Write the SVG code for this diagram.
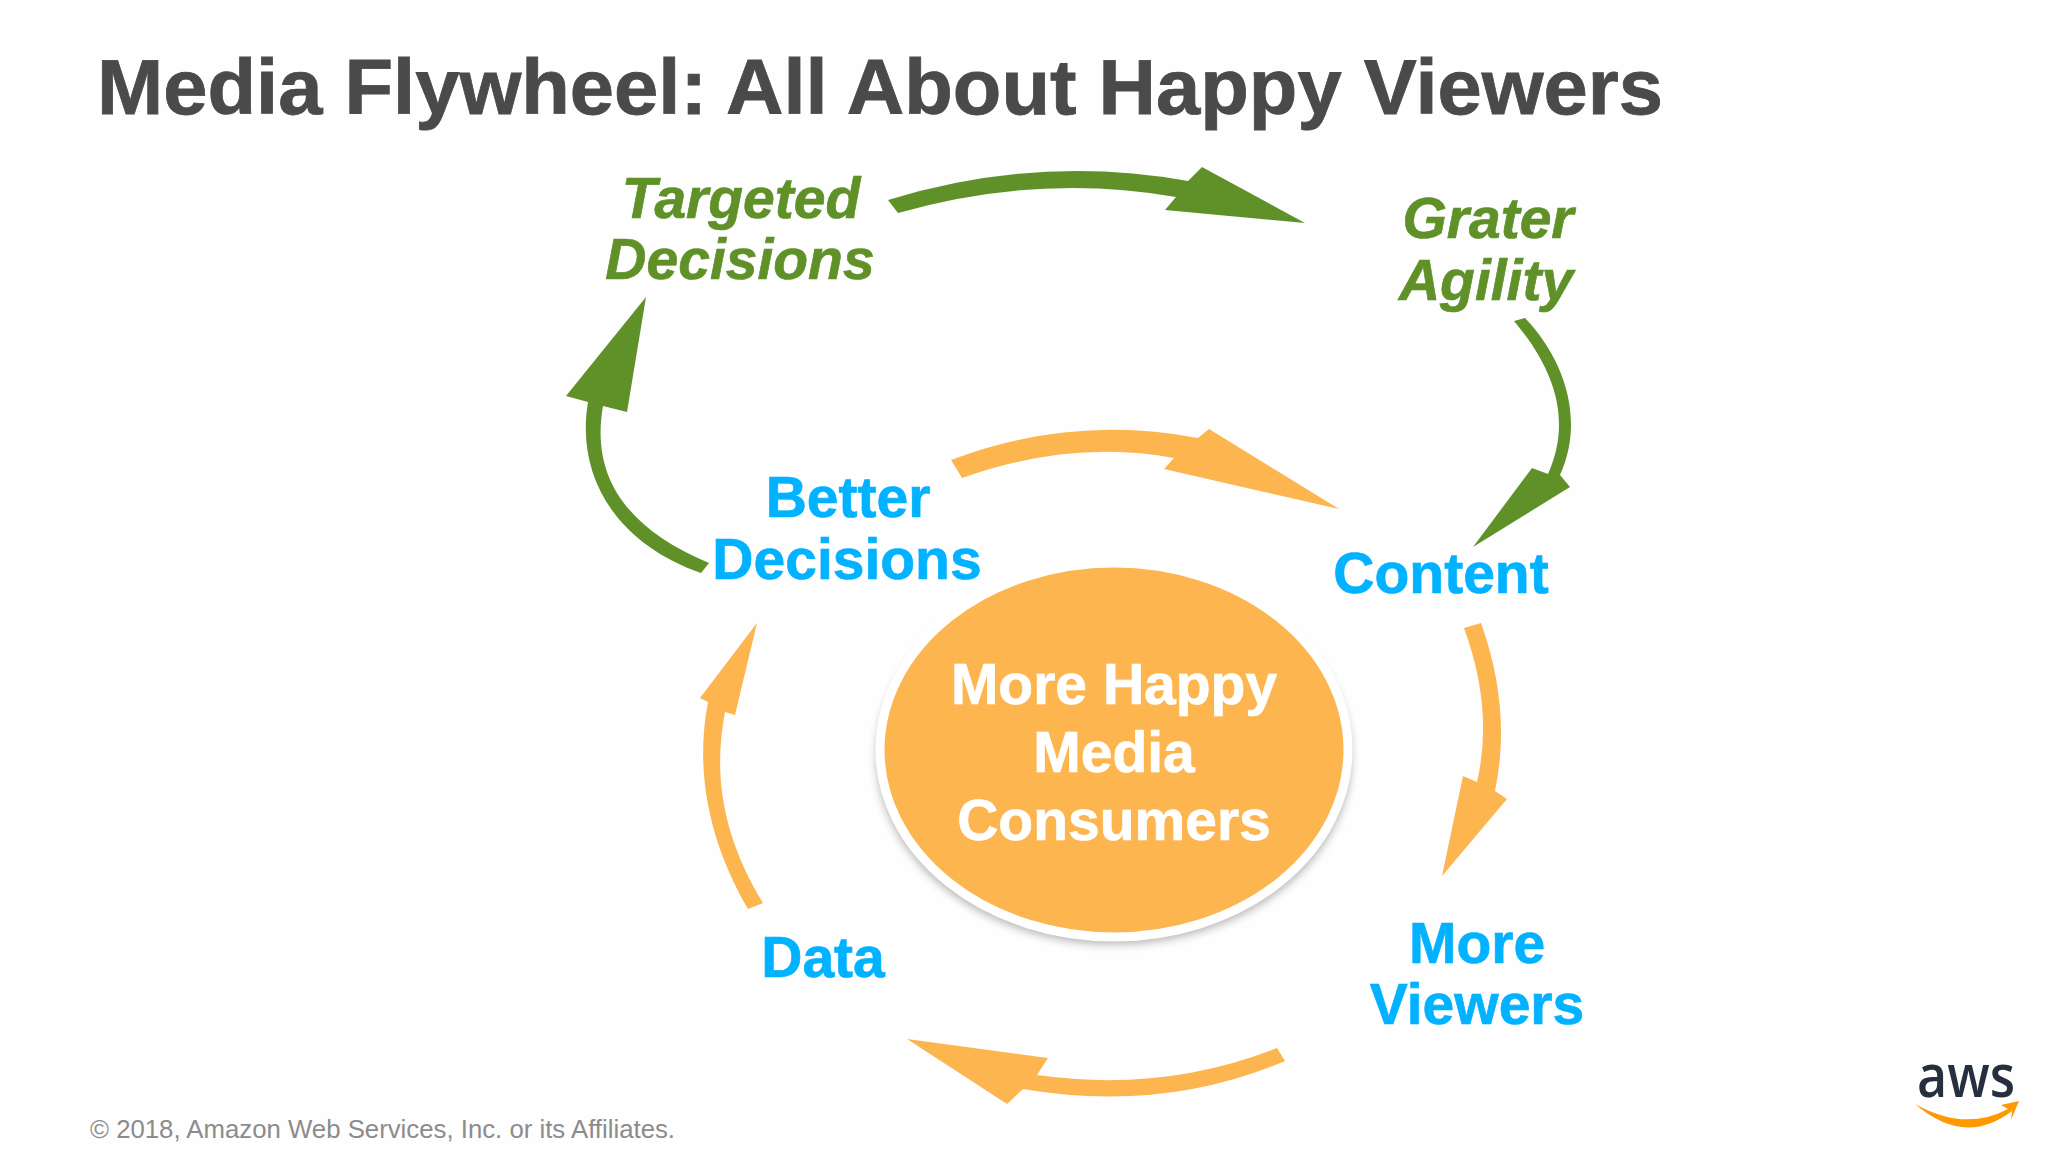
<svg xmlns="http://www.w3.org/2000/svg" width="2048" height="1152" viewBox="0 0 2048 1152">
<defs>
<style>
text{font-family:"Liberation Sans",Arial,sans-serif;font-weight:700;text-anchor:middle;font-size:57px}
.blue{fill:#00b2ff;stroke:#00b2ff;stroke-width:.7}
.green{fill:#5f9128;stroke:#5f9128;stroke-width:.7;font-style:italic}
.white{fill:#fff;stroke:#fff;stroke-width:.7}
.go{fill:#5f9128}
.or{fill:#fcb54f}
</style>
<filter id="sh" x="-10%" y="-10%" width="120%" height="125%"><feGaussianBlur stdDeviation="5"/></filter>
</defs>
<rect width="2048" height="1152" fill="#fefefe"/>
<g id="title"><text x="97" y="114" style="text-anchor:start;font-size:78px;fill:#4a4a4a;stroke:#4a4a4a;stroke-width:.8" textLength="1566" lengthAdjust="spacingAndGlyphs">Media Flywheel: All About Happy Viewers</text></g>
<g id="connectors">
<path class="go" d="M888 200Q1038 154 1188 181L1202 167L1305 223L1165 210L1176 197Q1038 173 898 213Z"/>
<path class="go" d="M1514 321L1525 318C1565 360 1585 420 1560 475L1570 487L1473 547L1532 468L1548 474C1572 420 1555 370 1514 321Z"/>
<path class="go" d="M701 573C620 545 575 480 588 402L566 396L646 297L627 412L603 406C590 480 630 530 709 563Z"/>
<path class="or" d="M951 460Q1072 414 1198 438L1209 429L1339 509L1164 469L1174 458Q1072 439 962 478Z"/>
<path class="or" d="M1464 628L1481 623Q1512 710 1495 791L1507 799L1442 876L1463 776L1477 782Q1494 710 1464 628Z"/>
<path class="or" d="M1277 1048Q1163 1093 1037 1075L1048 1058L907 1039L1007 1104L1023 1089Q1163 1113 1285 1061Z"/>
<path class="or" d="M748 909C708 840 695 770 708 702L700 698L757 623L735 715L725 712C712 780 725 840 763 903Z"/>
</g>
<g id="hub">
<ellipse cx="1114" cy="757" rx="237" ry="187" fill="#000" opacity=".3" filter="url(#sh)"/>
<ellipse cx="1114" cy="750" rx="234" ry="187" class="or" stroke="#fff" stroke-width="9"/>
<text class="white" x="1114" y="704">More Happy</text>
<text class="white" x="1114" y="772">Media</text>
<text class="white" x="1114" y="840">Consumers</text>
</g>
<g id="targeted-decisions"><text class="green" x="741" y="218">Targeted</text><text class="green" x="740" y="279">Decisions</text></g>
<g id="grater-agility"><text class="green" x="1488" y="238">Grater</text><text class="green" x="1486" y="300">Agility</text></g>
<g id="better-decisions"><text class="blue" x="848" y="517">Better</text><text class="blue" x="847" y="579">Decisions</text></g>
<g id="content"><text class="blue" x="1441" y="593">Content</text></g>
<g id="more-viewers"><text class="blue" x="1477" y="963">More</text><text class="blue" x="1477" y="1024">Viewers</text></g>
<g id="data"><text class="blue" x="823" y="977">Data</text></g>
<g id="footer"><text x="90" y="1138" style="text-anchor:start;font-weight:400;font-size:25px;fill:#8c8c8c" textLength="585" lengthAdjust="spacingAndGlyphs">© 2018, Amazon Web Services, Inc. or its Affiliates.</text></g>
<g id="aws-logo">
<text x="1966" y="1097" style="font-family:'Open Sans','Liberation Sans',sans-serif;font-weight:600;font-size:60px;fill:#252f3e" textLength="98" lengthAdjust="spacingAndGlyphs">aws</text>
<path d="M1915 1104Q1965 1132 2008 1109L2001 1105L2019 1101L2011 1120L2012 1111Q1965 1147 1915 1104Z" fill="#ff9900"/>
</g>
</svg>
